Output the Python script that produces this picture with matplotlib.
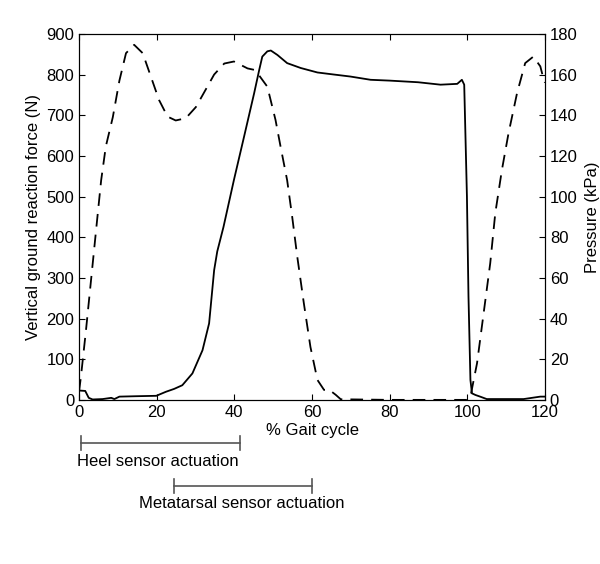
import matplotlib
matplotlib.use("Agg")
from matplotlib import pyplot as plt
from matplotlib import transforms

plt.rcParams["font.family"] = ["Liberation Sans", "DejaVu Sans"]
plt.rcParams["font.size"] = 10

# vertical ground reaction force (N), solid line, left axis
grf_x = [0, 1.6, 2.5, 3.5, 6.1, 8.3, 9.1, 10.4, 14.7, 19.9, 22.4, 24.5, 26.6,
         29.2, 31.8, 33.5, 34.8, 35.6, 36.4, 37.2, 39.9, 42.5, 45.1, 46.4, 47.2,
         48.5, 49.4, 51.1, 53.6, 57.1, 61.4, 65.6, 69.9, 75.1, 80, 87.3, 93.1,
         97.4, 98.6, 99.2, 99.9, 100.3, 100.8, 101.2, 102.1, 103.3, 105, 114.5,
         118.8, 120]
grf_n = [23, 22, 5, 1, 2, 5, 2, 8, 9, 10, 20, 27, 36,
         65, 122, 188, 319, 365, 395, 425, 541, 647, 754, 811, 844,
         857, 859, 848, 828, 816, 805, 800, 795, 787, 785, 781, 775,
         777, 787, 775, 500, 254, 49, 16, 12, 8, 2, 2,
         8, 8]

# in-shoe pressure (kPa), dashed line, right axis
prs_x = [0, 0.5, 1.8, 3.1, 4.4, 5.7, 6.9, 8.7, 10.4, 12.1, 14.2, 16.4, 18.5,
         20.6, 22.8, 24.9, 27.5, 30.1, 32.6, 34.8, 37.4, 39.9, 43.4, 45.1,
         46.4, 48.5, 50.6, 51.9, 53.6, 54.9, 56.2, 57.9, 59.6, 61.4, 63.1,
         64.4, 66.1, 67.4, 80, 100, 100.8, 102.5, 104.2, 105.9, 107.2, 108.9,
         110.6, 112.8, 114.9, 117, 118.8, 119.6, 120]
prs_kpa = [4, 11.5, 34.4, 59, 83.6, 108, 124.6, 139, 157, 170.5, 174.6, 170.5, 159,
           147.5, 139.3, 137.4, 138.5, 144, 152.5, 160, 165.4, 166.4, 163, 162.3,
           159.5, 154, 137.7, 124.6, 108, 90, 70.5, 47.5, 26, 9.8, 4.9,
           5, 2.5, 0.3, 0, 0, 1.6, 18, 42.6, 67.2, 91.8, 113,
           131, 150.8, 165.6, 168.8, 164, 158, 156]

sensor_names = ["Heel sensor actuation", "Metatarsal sensor actuation"]
sensor_spans = [(0.5, 41.4), (24.4, 59.9)]

fig = plt.figure(figsize=(6, 5.64), dpi=100)
ax = fig.add_axes([0.1317, 0.291, 0.7766, 0.649])
ax2 = ax.twinx()

ax.plot(grf_x, grf_n, color="black", lw=1.3)
ax2.plot(prs_x, prs_kpa, color="black", lw=1.3, linestyle=(0, (7, 4.5)))

ax.set_xlim(0, 120)
ax.set_ylim(0, 900)
ax2.set_ylim(0, 180)
ax.set_xticks(range(0, 121, 20))
ax.set_yticks(range(0, 901, 100))
ax2.set_yticks(range(0, 181, 20))

ax.tick_params(direction="in", top=True, right=False, length=4, labelsize=12)
ax.tick_params(axis="x", pad=4)
ax2.tick_params(direction="in", length=4, labelsize=12)

ax.set_xlabel("% Gait cycle", fontsize=12, labelpad=2)
ax.set_ylabel("Vertical ground reaction force (N)", fontsize=12, labelpad=4)
ax2.set_ylabel("Pressure (kPa)", fontsize=12, labelpad=5)

# actuation bars below the axis: x in data units, y in figure fraction
trans = transforms.blended_transform_factory(ax.transData, fig.transFigure)
bar_y = [0.2145, 0.138]
text_y = [0.1826, 0.108]
text_x = [-0.5, 15.5]
for name, (x0, x1), by, ty, tx in zip(sensor_names, sensor_spans, bar_y, text_y, text_x):
    ax.plot([x0, x1], [by, by], color="#555555", lw=1.2, transform=trans, clip_on=False)
    for xe in (x0, x1):
        ax.plot([xe, xe], [by - 0.012, by + 0.012], color="#555555", lw=1.2,
                transform=trans, clip_on=False)
    ax.text(tx, ty, name, transform=trans, ha="left", va="center", fontsize=12)

fig.savefig("out.png")
